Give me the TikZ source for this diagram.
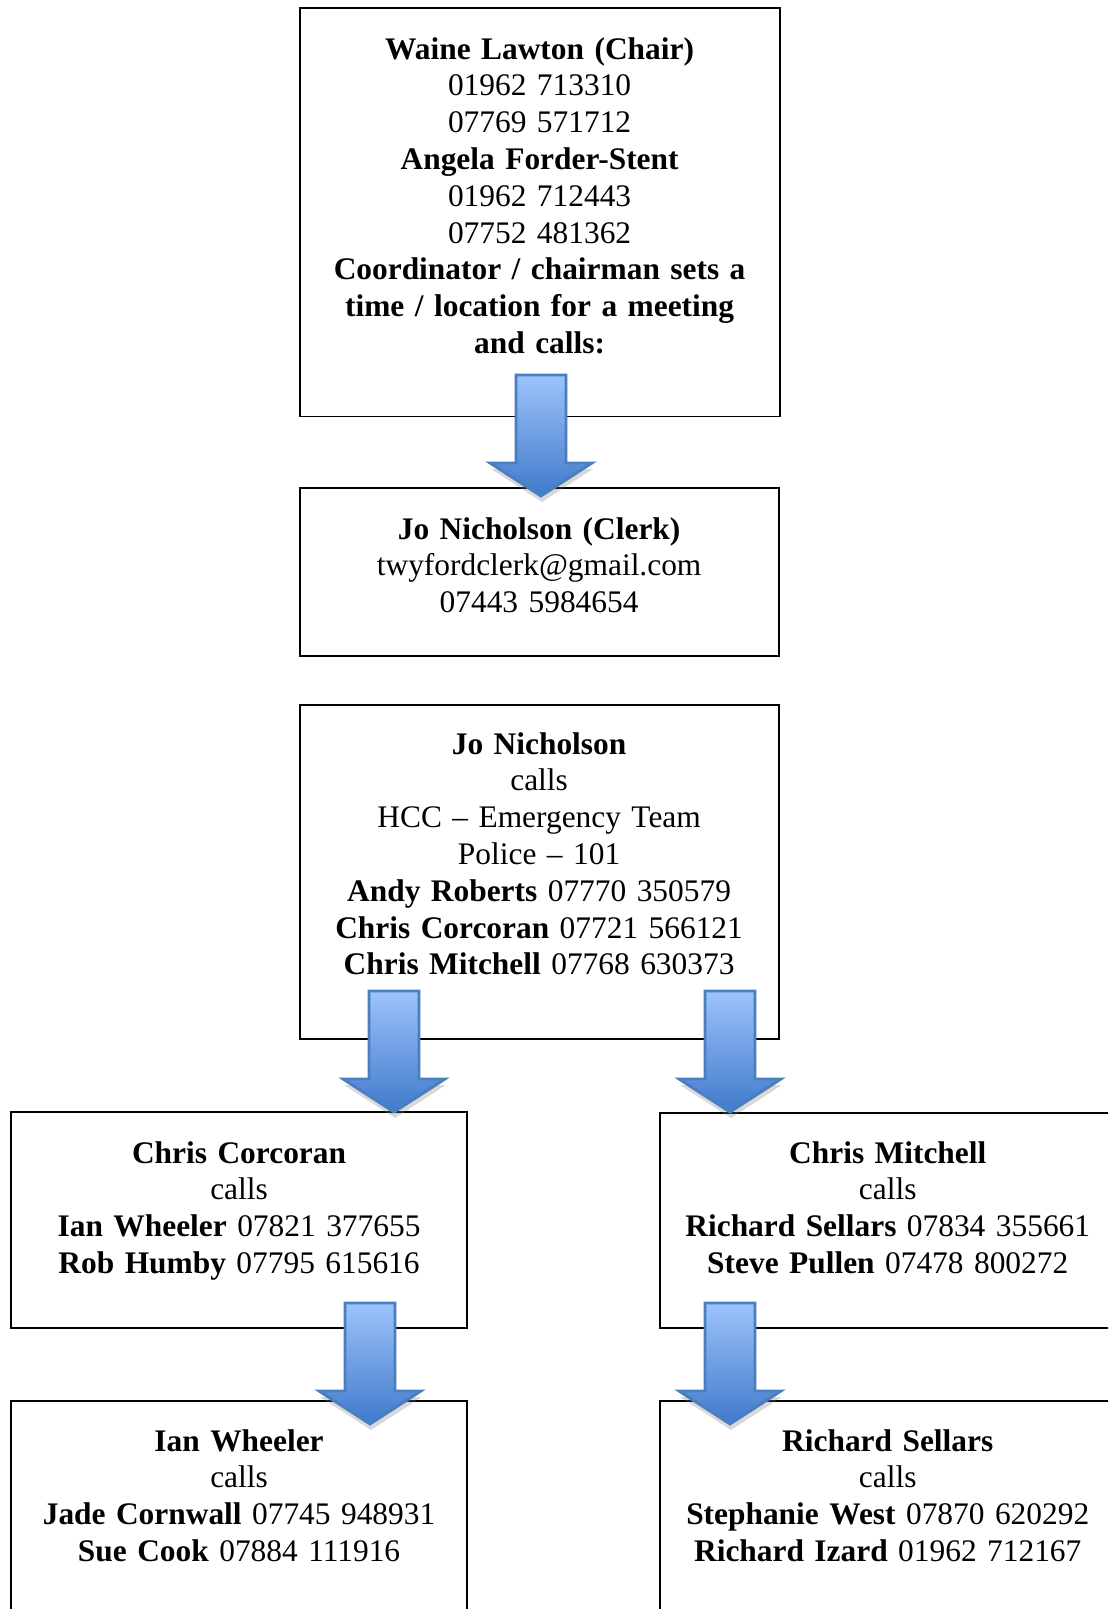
\documentclass[tikz,border=0pt]{standalone}
\usepackage{fontspec}
\setmainfont{Liberation Serif}
\usetikzlibrary{calc,shadows}
\definecolor{arrowtop}{RGB}{157,195,250}
\definecolor{arrowbottom}{RGB}{64,122,204}
\definecolor{arrowline}{RGB}{74,126,190}
\tikzset{callbox/.style={draw=black, line width=0.9pt, anchor=north west, inner sep=0pt, outer sep=0pt},
calltext/.style={anchor=base, align=center, text width=224pt, inner sep=0pt, font=\fontsize{15.7}{18.4}\selectfont},
%block arrow pointing down, drawn from the middle of its top edge
callarrow/.pic={
  \path[top color=arrowtop, bottom color=arrowbottom, draw=arrowline, line width=1.4pt,
    drop shadow={shadow xshift=0.5pt, shadow yshift=-3pt, opacity=0.3}]
    (-25,0) -- (25,0) -- (25,88) -- (51,88) -- (0,121) -- (-51,88) -- (-25,88) -- cycle;
}}

\begin{document}
\begin{tikzpicture}[x=0.5pt, y=-0.5pt]

\useasboundingbox (0,0) rectangle (1108,1609);
\clip (0,0) rectangle (1108,1609);

\node[callbox, minimum width=240pt, minimum height=204.2pt] (chairbox) at (299.6,8.2) {};
\node[callbox, minimum width=239.5pt, minimum height=83.8pt] (clerkbox) at (299.6,488) {};
\node[callbox, minimum width=239.5pt, minimum height=167pt] (jobox) at (299.6,705) {};
\node[callbox, minimum width=227.75pt, minimum height=108pt] (corcoranbox) at (11.3,1112) {};
\node[callbox, minimum width=227.75pt, minimum height=107.5pt] (mitchellbox) at (660,1113) {};
\node[callbox, minimum width=227.75pt, minimum height=115pt] (wheelerbox) at (11.3,1401) {};
\node[callbox, minimum width=227.75pt, minimum height=115pt] (sellarsbox) at (660,1401) {};

\node[calltext] (chair) at ($(chairbox.north)+(0,51)$) {\textbf{Waine Lawton (Chair)}\\
  01962 713310\\ 07769 571712\\ \textbf{Angela Forder-Stent}\\ 01962 712443\\ 07752 481362\\
  \textbf{Coordinator / chairman sets a}\\ \textbf{time / location for a meeting}\\ \textbf{and calls:}};
\node[calltext] (clerk) at ($(clerkbox.north)+(0,51)$) {\textbf{Jo Nicholson (Clerk)}\\
  twyfordclerk@gmail.com\\ 07443 5984654};
\node[calltext] (jo) at ($(jobox.north)+(0,49)$) {\textbf{Jo Nicholson}\\ calls\\
  HCC -- Emergency Team\\ Police -- 101\\ \textbf{Andy Roberts} 07770 350579\\
  \textbf{Chris Corcoran} 07721 566121\\ \textbf{Chris Mitchell} 07768 630373};
\node[calltext] (corcoran) at ($(corcoranbox.north)+(0,51)$) {\textbf{Chris Corcoran}\\ calls\\
  \textbf{Ian Wheeler} 07821 377655\\ \textbf{Rob Humby} 07795 615616};
\node[calltext] (mitchell) at ($(mitchellbox.north)+(0,50)$) {\textbf{Chris Mitchell}\\ calls\\
  \textbf{Richard Sellars} 07834 355661\\ \textbf{Steve Pullen} 07478 800272};
\node[calltext] (wheeler) at ($(wheelerbox.north)+(0,50)$) {\textbf{Ian Wheeler}\\ calls\\
  \textbf{Jade Cornwall} 07745 948931\\ \textbf{Sue Cook} 07884 111916};
\node[calltext] (sellars) at ($(sellarsbox.north)+(0,50)$) {\textbf{Richard Sellars}\\ calls\\
  \textbf{Stephanie West} 07870 620292\\ \textbf{Richard Izard} 01962 712167};

\coordinate (chairdown) at (541,375);
\coordinate (corcorandown) at (394,991);
\coordinate (mitchelldown) at (730,991);
\coordinate (wheelerdown) at (370,1303);
\coordinate (sellarsdown) at (730,1303);

\foreach \a in {chairdown,corcorandown,mitchelldown,wheelerdown,sellarsdown}
    \pic at (\a) {callarrow};

\end{tikzpicture}
\end{document}
